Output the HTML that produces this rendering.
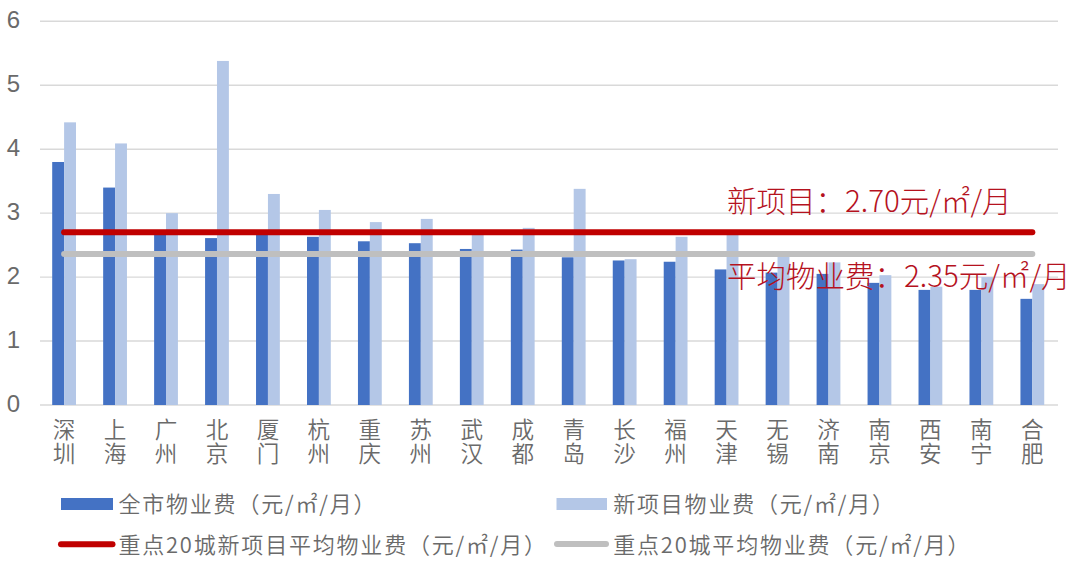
<!DOCTYPE html>
<html><head><meta charset="utf-8"><title>物业费</title>
<style>
html,body{margin:0;padding:0;background:#fff;}
body{width:1080px;height:565px;overflow:hidden;}
svg{display:block;}
.ax{font-family:'Liberation Sans', 'Noto Sans CJK SC', sans-serif;font-size:24px;fill:#6A6A6A;}
.xl{font-family:'Noto Sans CJK SC',sans-serif;font-weight:350;font-size:22.6px;fill:#6A6A6A;}
.lg{font-family:'Noto Sans CJK SC',sans-serif;font-weight:350;font-size:22px;letter-spacing:1.8px;fill:#6A6A6A;}
.s{font-family:'Noto Sans CJK SC',sans-serif;}
.ann{font-family:'Noto Sans CJK SC',sans-serif;font-weight:300;font-size:29.5px;fill:#B5121E;}
</style></head>
<body>
<svg width="1080" height="565" viewBox="0 0 1080 565">
<line x1="40" y1="405.00" x2="1058" y2="405.00" stroke="#D9D9D9" stroke-width="1.4"/>
<line x1="40" y1="341.05" x2="1058" y2="341.05" stroke="#D9D9D9" stroke-width="1.4"/>
<line x1="40" y1="277.10" x2="1058" y2="277.10" stroke="#D9D9D9" stroke-width="1.4"/>
<line x1="40" y1="213.15" x2="1058" y2="213.15" stroke="#D9D9D9" stroke-width="1.4"/>
<line x1="40" y1="149.20" x2="1058" y2="149.20" stroke="#D9D9D9" stroke-width="1.4"/>
<line x1="40" y1="85.25" x2="1058" y2="85.25" stroke="#D9D9D9" stroke-width="1.4"/>
<line x1="40" y1="21.30" x2="1058" y2="21.30" stroke="#D9D9D9" stroke-width="1.4"/>
<text x="20" y="411.50" text-anchor="end" class="ax">0</text>
<text x="20" y="347.55" text-anchor="end" class="ax">1</text>
<text x="20" y="283.60" text-anchor="end" class="ax">2</text>
<text x="20" y="219.65" text-anchor="end" class="ax">3</text>
<text x="20" y="155.70" text-anchor="end" class="ax">4</text>
<text x="20" y="91.75" text-anchor="end" class="ax">5</text>
<text x="20" y="27.80" text-anchor="end" class="ax">6</text>
<rect x="52.20" y="161.99" width="11.9" height="243.01" fill="#4472C4"/>
<rect x="64.10" y="122.34" width="11.9" height="282.66" fill="#B4C7E7"/>
<rect x="103.16" y="187.57" width="11.9" height="217.43" fill="#4472C4"/>
<rect x="115.06" y="143.44" width="11.9" height="261.56" fill="#B4C7E7"/>
<rect x="154.12" y="232.97" width="11.9" height="172.03" fill="#4472C4"/>
<rect x="166.02" y="213.15" width="11.9" height="191.85" fill="#B4C7E7"/>
<rect x="205.08" y="238.09" width="11.9" height="166.91" fill="#4472C4"/>
<rect x="216.98" y="60.95" width="11.9" height="344.05" fill="#B4C7E7"/>
<rect x="256.04" y="233.61" width="11.9" height="171.39" fill="#4472C4"/>
<rect x="267.94" y="193.97" width="11.9" height="211.03" fill="#B4C7E7"/>
<rect x="307.00" y="236.81" width="11.9" height="168.19" fill="#4472C4"/>
<rect x="318.90" y="209.95" width="11.9" height="195.05" fill="#B4C7E7"/>
<rect x="357.96" y="241.29" width="11.9" height="163.71" fill="#4472C4"/>
<rect x="369.86" y="222.10" width="11.9" height="182.90" fill="#B4C7E7"/>
<rect x="408.92" y="243.21" width="11.9" height="161.79" fill="#4472C4"/>
<rect x="420.82" y="218.91" width="11.9" height="186.09" fill="#B4C7E7"/>
<rect x="459.88" y="248.96" width="11.9" height="156.04" fill="#4472C4"/>
<rect x="471.78" y="233.61" width="11.9" height="171.39" fill="#B4C7E7"/>
<rect x="510.84" y="249.60" width="11.9" height="155.40" fill="#4472C4"/>
<rect x="522.74" y="227.86" width="11.9" height="177.14" fill="#B4C7E7"/>
<rect x="561.80" y="257.28" width="11.9" height="147.72" fill="#4472C4"/>
<rect x="573.70" y="188.85" width="11.9" height="216.15" fill="#B4C7E7"/>
<rect x="612.76" y="260.47" width="11.9" height="144.53" fill="#4472C4"/>
<rect x="624.66" y="259.19" width="11.9" height="145.81" fill="#B4C7E7"/>
<rect x="663.72" y="261.75" width="11.9" height="143.25" fill="#4472C4"/>
<rect x="675.62" y="236.81" width="11.9" height="168.19" fill="#B4C7E7"/>
<rect x="714.68" y="269.43" width="11.9" height="135.57" fill="#4472C4"/>
<rect x="726.58" y="234.25" width="11.9" height="170.75" fill="#B4C7E7"/>
<rect x="765.64" y="272.62" width="11.9" height="132.38" fill="#4472C4"/>
<rect x="777.54" y="254.72" width="11.9" height="150.28" fill="#B4C7E7"/>
<rect x="816.60" y="273.90" width="11.9" height="131.10" fill="#4472C4"/>
<rect x="828.50" y="262.39" width="11.9" height="142.61" fill="#B4C7E7"/>
<rect x="867.56" y="282.86" width="11.9" height="122.14" fill="#4472C4"/>
<rect x="879.46" y="275.18" width="11.9" height="129.82" fill="#B4C7E7"/>
<rect x="918.52" y="289.89" width="11.9" height="115.11" fill="#4472C4"/>
<rect x="930.42" y="286.69" width="11.9" height="118.31" fill="#B4C7E7"/>
<rect x="969.48" y="289.89" width="11.9" height="115.11" fill="#4472C4"/>
<rect x="981.38" y="277.10" width="11.9" height="127.90" fill="#B4C7E7"/>
<rect x="1020.44" y="298.84" width="11.9" height="106.16" fill="#4472C4"/>
<rect x="1032.34" y="284.13" width="11.9" height="120.87" fill="#B4C7E7"/>
<line x1="64.10" y1="254.1" x2="1032.34" y2="254.1" stroke="#BFBFBF" stroke-width="6" stroke-linecap="round"/>
<line x1="64.10" y1="232.33" x2="1032.34" y2="232.33" stroke="#C00000" stroke-width="6" stroke-linecap="round"/>
<text x="64.10" y="438" text-anchor="middle" class="xl">深</text>
<text x="64.10" y="462.3" text-anchor="middle" class="xl">圳</text>
<text x="115.06" y="438" text-anchor="middle" class="xl">上</text>
<text x="115.06" y="462.3" text-anchor="middle" class="xl">海</text>
<text x="166.02" y="438" text-anchor="middle" class="xl">广</text>
<text x="166.02" y="462.3" text-anchor="middle" class="xl">州</text>
<text x="216.98" y="438" text-anchor="middle" class="xl">北</text>
<text x="216.98" y="462.3" text-anchor="middle" class="xl">京</text>
<text x="267.94" y="438" text-anchor="middle" class="xl">厦</text>
<text x="267.94" y="462.3" text-anchor="middle" class="xl">门</text>
<text x="318.90" y="438" text-anchor="middle" class="xl">杭</text>
<text x="318.90" y="462.3" text-anchor="middle" class="xl">州</text>
<text x="369.86" y="438" text-anchor="middle" class="xl">重</text>
<text x="369.86" y="462.3" text-anchor="middle" class="xl">庆</text>
<text x="420.82" y="438" text-anchor="middle" class="xl">苏</text>
<text x="420.82" y="462.3" text-anchor="middle" class="xl">州</text>
<text x="471.78" y="438" text-anchor="middle" class="xl">武</text>
<text x="471.78" y="462.3" text-anchor="middle" class="xl">汉</text>
<text x="522.74" y="438" text-anchor="middle" class="xl">成</text>
<text x="522.74" y="462.3" text-anchor="middle" class="xl">都</text>
<text x="573.70" y="438" text-anchor="middle" class="xl">青</text>
<text x="573.70" y="462.3" text-anchor="middle" class="xl">岛</text>
<text x="624.66" y="438" text-anchor="middle" class="xl">长</text>
<text x="624.66" y="462.3" text-anchor="middle" class="xl">沙</text>
<text x="675.62" y="438" text-anchor="middle" class="xl">福</text>
<text x="675.62" y="462.3" text-anchor="middle" class="xl">州</text>
<text x="726.58" y="438" text-anchor="middle" class="xl">天</text>
<text x="726.58" y="462.3" text-anchor="middle" class="xl">津</text>
<text x="777.54" y="438" text-anchor="middle" class="xl">无</text>
<text x="777.54" y="462.3" text-anchor="middle" class="xl">锡</text>
<text x="828.50" y="438" text-anchor="middle" class="xl">济</text>
<text x="828.50" y="462.3" text-anchor="middle" class="xl">南</text>
<text x="879.46" y="438" text-anchor="middle" class="xl">南</text>
<text x="879.46" y="462.3" text-anchor="middle" class="xl">京</text>
<text x="930.42" y="438" text-anchor="middle" class="xl">西</text>
<text x="930.42" y="462.3" text-anchor="middle" class="xl">安</text>
<text x="981.38" y="438" text-anchor="middle" class="xl">南</text>
<text x="981.38" y="462.3" text-anchor="middle" class="xl">宁</text>
<text x="1032.34" y="438" text-anchor="middle" class="xl">合</text>
<text x="1032.34" y="462.3" text-anchor="middle" class="xl">肥</text>
<text x="727" y="212" class="ann">新项目：2.70元<tspan class="s">/</tspan>㎡<tspan class="s">/</tspan>月</text>
<text x="727" y="287" class="ann">平均物业费：2.35元<tspan class="s">/</tspan>㎡<tspan class="s">/</tspan>月</text>
<rect x="61" y="498" width="52" height="12" fill="#4472C4"/>
<text x="118.4" y="512.3" class="lg">全市物业费（元<tspan class="s">/</tspan>㎡<tspan class="s">/</tspan>月）</text>
<rect x="556.5" y="498" width="50.5" height="12" fill="#B4C7E7"/>
<text x="613.2" y="512.3" class="lg">新项目物业费（元<tspan class="s">/</tspan>㎡<tspan class="s">/</tspan>月）</text>
<line x1="61" y1="544.2" x2="112.5" y2="544.2" stroke="#C00000" stroke-width="6" stroke-linecap="round"/>
<text x="118.4" y="552.6" class="lg">重点20城新项目平均物业费（元<tspan class="s">/</tspan>㎡<tspan class="s">/</tspan>月）</text>
<line x1="557" y1="544" x2="606" y2="544" stroke="#BFBFBF" stroke-width="6" stroke-linecap="round"/>
<text x="613.2" y="552.6" class="lg">重点20城平均物业费（元<tspan class="s">/</tspan>㎡<tspan class="s">/</tspan>月）</text>
</svg>
</body></html>
